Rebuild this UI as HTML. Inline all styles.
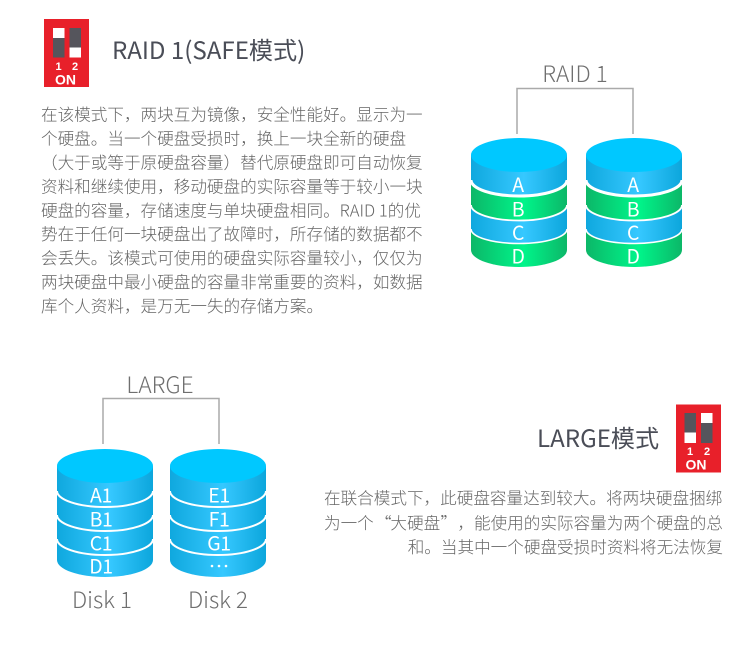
<!DOCTYPE html>
<html><head><meta charset="utf-8">
<style>
html,body{margin:0;padding:0;background:#fff;width:750px;height:645px;overflow:hidden}
svg{display:block}
text{font-family:"Liberation Sans","Noto Sans CJK SC",sans-serif}
.p{font-family:"Noto Sans CJK SC","Liberation Sans",sans-serif;font-size:16.6px;fill:#666;font-weight:300}
.h{font-family:"Noto Sans CJK SC","Liberation Sans",sans-serif;font-size:24.1px;fill:#4a4d57;font-weight:400}
.lab{font-family:"Noto Sans CJK SC","Liberation Sans",sans-serif;font-size:22.6px;fill:#6f6f6f;font-weight:300;text-anchor:middle}
.d{font-family:"Noto Sans CJK SC","Liberation Sans",sans-serif;font-size:19.5px;fill:#fff;text-anchor:middle;letter-spacing:-.4px}
.on{font-family:"Liberation Sans",sans-serif;font-weight:bold;fill:#fff;text-anchor:middle}
</style></head><body>
<svg width="750" height="645" viewBox="0 0 750 645" xmlns="http://www.w3.org/2000/svg">
<defs>
<linearGradient id="b" x1="0" x2="1" y1="0" y2="0"><stop offset="0" stop-color="#0fa8de"/><stop offset=".55" stop-color="#36c8ff"/><stop offset="1" stop-color="#0ca6dc"/></linearGradient>
<linearGradient id="g" x1="0" x2="1" y1="0" y2="0"><stop offset="0" stop-color="#0cb768"/><stop offset=".55" stop-color="#00f58a"/><stop offset="1" stop-color="#0cb768"/></linearGradient>
</defs>

<!-- DIP 1 -->
<rect x="44" y="19" width="45" height="68" fill="#e8202a"/>
<rect x="53" y="28" width="11.5" height="29.5" fill="#55555c"/><rect x="53" y="28" width="11.5" height="10" fill="#fff"/>
<rect x="69.5" y="28" width="11.5" height="29.5" fill="#55555c"/><rect x="69.5" y="47.5" width="11.5" height="10" fill="#fff"/>
<text class="on" x="58.5" y="70" font-size="11">1</text><text class="on" x="75" y="70" font-size="11">2</text>
<text class="on" x="65.5" y="84.5" font-size="14">ON</text>

<text class="h" x="112" y="59">RAID 1(SAFE模式)</text>

<text class="p" x="41" y="120.5">在该模式下，两块互为镜像，安全性能好。显示为一</text>
<text class="p" x="41" y="144.5">个硬盘。当一个硬盘受损时，换上一块全新的硬盘</text>
<text class="p" x="41" y="168.5">（大于或等于原硬盘容量）替代原硬盘即可自动恢复</text>
<text class="p" x="41" y="192.5">资料和继续使用，移动硬盘的实际容量等于较小一块</text>
<text class="p" x="41" y="216.5">硬盘的容量，存储速度与单块硬盘相同。RAID 1的优</text>
<text class="p" x="41" y="240">势在于任何一块硬盘出了故障时，所存储的数据都不</text>
<text class="p" x="41" y="264">会丢失。该模式可使用的硬盘实际容量较小，仅仅为</text>
<text class="p" x="41" y="288">两块硬盘中最小硬盘的容量非常重要的资料，如数据</text>
<text class="p" x="41" y="312">库个人资料，是万无一失的存储方案。</text>

<!-- RAID 1 diagram -->
<text class="lab" x="575" y="82">RAID 1</text>
<path d="M517 134V88.5H633V134" fill="none" stroke="#aaa" stroke-width="1.5"/>

<g>
<path d="M471 155V250A48 17 0 0 0 567 250V155Z" fill="url(#g)"/>
<path d="M471 155V179A48 17 0 0 0 567 179V155Z" fill="url(#b)"/>
<path d="M471 205A48 16 0 0 0 567 205V229A48 15 0 0 1 471 229Z" fill="url(#b)"/>
<path d="M471 180A48 16 0 0 0 567 180" fill="none" stroke="#fff" stroke-width="3"/>
<path d="M471 205A48 15.5 0 0 0 567 205" fill="none" stroke="#fff" stroke-width="1.8"/>
<path d="M471 229A48 14.5 0 0 0 567 229" fill="none" stroke="#fff" stroke-width="1.6"/>
<ellipse cx="519" cy="155" rx="48" ry="17" fill="#00c8ff"/>
<text class="d" x="518" y="192">A</text><text class="d" x="518" y="216.5">B</text><text class="d" x="518" y="240">C</text><text class="d" x="518" y="263.5">D</text>
</g>
<g transform="translate(115 0)">
<path d="M471 155V250A48 17 0 0 0 567 250V155Z" fill="url(#g)"/>
<path d="M471 155V179A48 17 0 0 0 567 179V155Z" fill="url(#b)"/>
<path d="M471 205A48 16 0 0 0 567 205V229A48 15 0 0 1 471 229Z" fill="url(#b)"/>
<path d="M471 180A48 16 0 0 0 567 180" fill="none" stroke="#fff" stroke-width="3"/>
<path d="M471 205A48 15.5 0 0 0 567 205" fill="none" stroke="#fff" stroke-width="1.8"/>
<path d="M471 229A48 14.5 0 0 0 567 229" fill="none" stroke="#fff" stroke-width="1.6"/>
<ellipse cx="519" cy="155" rx="48" ry="17" fill="#00c8ff"/>
<text class="d" x="518" y="192">A</text><text class="d" x="518" y="216.5">B</text><text class="d" x="518" y="240">C</text><text class="d" x="518" y="263.5">D</text>
</g>

<!-- LARGE diagram -->
<text class="lab" x="160" y="393">LARGE</text>
<path d="M103 444V398.5H219V444" fill="none" stroke="#aaa" stroke-width="1.5"/>

<g>
<path d="M57 466V560A48 17 0 0 0 153 560V466Z" fill="url(#b)"/>
<path d="M57 491A48 16 0 0 0 153 491" fill="none" stroke="#fff" stroke-width="2"/>
<path d="M57 515A48 16 0 0 0 153 515" fill="none" stroke="#fff" stroke-width="2"/>
<path d="M57 539A48 16 0 0 0 153 539" fill="none" stroke="#fff" stroke-width="2"/>
<ellipse cx="105" cy="466" rx="48" ry="17" fill="#00c8ff"/>
<text class="d" x="101" y="502.5">A1</text><text class="d" x="101" y="526.5">B1</text><text class="d" x="101" y="550.5">C1</text><text class="d" x="101" y="573.5">D1</text>
</g>
<g>
<path d="M170 466V560A48 17 0 0 0 266 560V466Z" fill="url(#b)"/>
<path d="M170 491A48 16 0 0 0 266 491" fill="none" stroke="#fff" stroke-width="2"/>
<path d="M170 515A48 16 0 0 0 266 515" fill="none" stroke="#fff" stroke-width="2"/>
<path d="M170 539A48 16 0 0 0 266 539" fill="none" stroke="#fff" stroke-width="2"/>
<ellipse cx="218" cy="466" rx="48" ry="17" fill="#00c8ff"/>
<text class="d" x="219" y="502.5">E1</text><text class="d" x="219" y="526.5">F1</text><text class="d" x="219" y="550.5">G1</text>
<circle cx="212" cy="566" r="1.3" fill="#fff"/><circle cx="219" cy="566" r="1.3" fill="#fff"/><circle cx="226" cy="566" r="1.3" fill="#fff"/>
</g>

<text class="lab" x="102" y="608">Disk 1</text>
<text class="lab" x="218" y="608">Disk 2</text>

<text class="h" x="537" y="447">LARGE模式</text>

<!-- DIP 2 -->
<rect x="676" y="404.5" width="45" height="68" fill="#e8202a"/>
<rect x="684.5" y="413" width="11.5" height="30" fill="#55555c"/><rect x="684.5" y="432.5" width="11.5" height="10.5" fill="#fff"/>
<rect x="701" y="413" width="11.5" height="30" fill="#55555c"/><rect x="701" y="413" width="11.5" height="10" fill="#fff"/>
<text class="on" x="690" y="455" font-size="11">1</text><text class="on" x="707" y="455" font-size="11">2</text>
<text class="on" x="696" y="469.5" font-size="14">ON</text>

<text class="p" x="324" y="504">在联合模式下，此硬盘容量达到较大。将两块硬盘捆绑</text>
<text class="p" y="529"><tspan x="324">为一个</tspan><tspan x="375">“</tspan><tspan x="390.4">大硬盘</tspan><tspan x="440.5">”</tspan><tspan x="457.4">，</tspan><tspan x="474">能使用的实际容量为两个硬盘的总</tspan></text>
<text class="p" x="723" y="553" text-anchor="end">和。当其中一个硬盘受损时资料将无法恢复</text>
</svg>
</body></html>
